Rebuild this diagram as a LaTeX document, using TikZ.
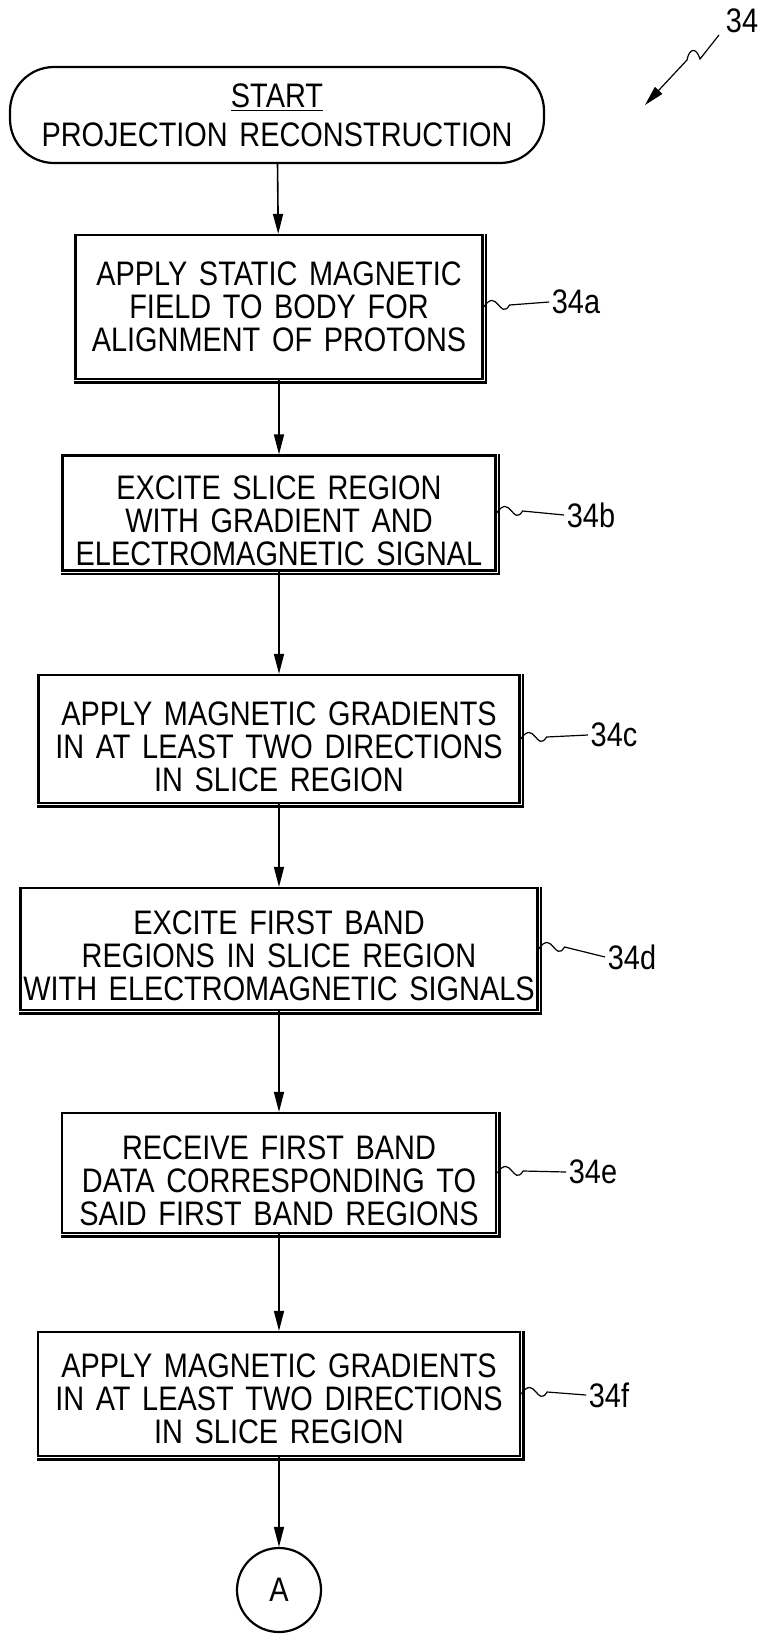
\documentclass[tikz,border=0pt]{standalone}
\usepackage{fontspec}
\setmainfont{Liberation Sans}[FakeStretch=0.85, WordSpace=1.45]
\usetikzlibrary{arrows.meta}

\tikzset{
  stepbox/.style={draw, line width=1.1pt, align=center, inner sep=0pt},
  refnum/.style={inner sep=1pt},
}

\begin{document}
\begin{tikzpicture}[x=0.5pt, y=-0.5pt, thick, >={Triangle[length=10pt,width=5pt]},
    font=\fontsize{17}{16.5}\selectfont]
    \useasboundingbox (0,0) rectangle (763,1634);
    % Start terminal
    \node[stepbox, rounded corners=22pt, minimum width=267pt, minimum height=48pt] (start) at (277,115)
        {\underline{START}\\[3pt]PROJECTION RECONSTRUCTION};
    % Steps
    \node[stepbox, minimum width=203.5pt, minimum height=72pt] (b1) at (279,307)
        {APPLY STATIC MAGNETIC\\FIELD TO BODY FOR\\ALIGNMENT OF PROTONS};
    \node[stepbox, minimum width=216.5pt, minimum height=57.5pt, text height=53pt] (b2) at (279,513)
        {EXCITE SLICE REGION\\WITH GRADIENT AND\\ELECTROMAGNETIC SIGNAL};
    \node[stepbox, minimum width=240.5pt, minimum height=64pt, text height=53pt] (b3) at (279,739)
        {APPLY MAGNETIC GRADIENTS\\IN AT LEAST TWO DIRECTIONS\\IN SLICE REGION};
    \node[stepbox, minimum width=258.5pt, minimum height=61pt, text height=52pt] (b4) at (279,949)
        {EXCITE FIRST BAND\\REGIONS IN SLICE REGION\\WITH ELECTROMAGNETIC SIGNALS};
    \node[stepbox, minimum width=217pt, minimum height=60pt, text height=53pt] (b5) at (279,1173)
        {RECEIVE FIRST BAND\\DATA CORRESPONDING TO\\SAID FIRST BAND REGIONS};
    \node[stepbox, minimum width=241pt, minimum height=62pt, text height=50pt] (b6) at (279,1394)
        {APPLY MAGNETIC GRADIENTS\\IN AT LEAST TWO DIRECTIONS\\IN SLICE REGION};
    % Connector
    \node[draw, circle, line width=1.1pt, minimum size=42pt, inner sep=0pt] (conA) at (279,1590) {A};
    % Heavy right and bottom edges
    \foreach \n in {b1,b2,b3,b4,b5,b6}
        \draw[line width=1.2pt] ([xshift=1.2pt]\n.north east) -- ([shift={(1.2pt,-1.2pt)}]\n.south east)
            -- ([yshift=-1.2pt]\n.south west);
    % Flow
    \draw[->] (start) -- (b1);
    \draw[->] (b1) -- (b2);
    \draw[->] (b2) -- (b3);
    \draw[->] (b3) -- (b4);
    \draw[->] (b4) -- (b5);
    \draw[->] (b5) -- (b6);
    \draw[->] (b6) -- (conA);
    % Reference numerals
    \node[refnum] (l1) at (576,302) {34a};
    \node[refnum] (l2) at (591,515) {34b};
    \node[refnum] (l3) at (614,735) {34c};
    \node[refnum] (l4) at (632,957) {34d};
    \node[refnum] (l5) at (593,1172) {34e};
    \node[refnum] (l6) at (609,1395) {34f};
    \foreach \b/\l in {b1/l1,b2/l2,b3/l3,b4/l4,b5/l5,b6/l6}
        \draw[semithick] (\b.east) .. controls +(14,-20) and +(-10,16) .. +(26,-2) -- (\l.west);
    \node[refnum] (fig) at (742,21) {34};
    \coordinate (tip) at (645,105);
    \draw[semithick, ->] (719,35) -- (700,59) .. controls (696,46) and (689,49) .. (687,60) -- (tip);
\end{tikzpicture}
\end{document}
